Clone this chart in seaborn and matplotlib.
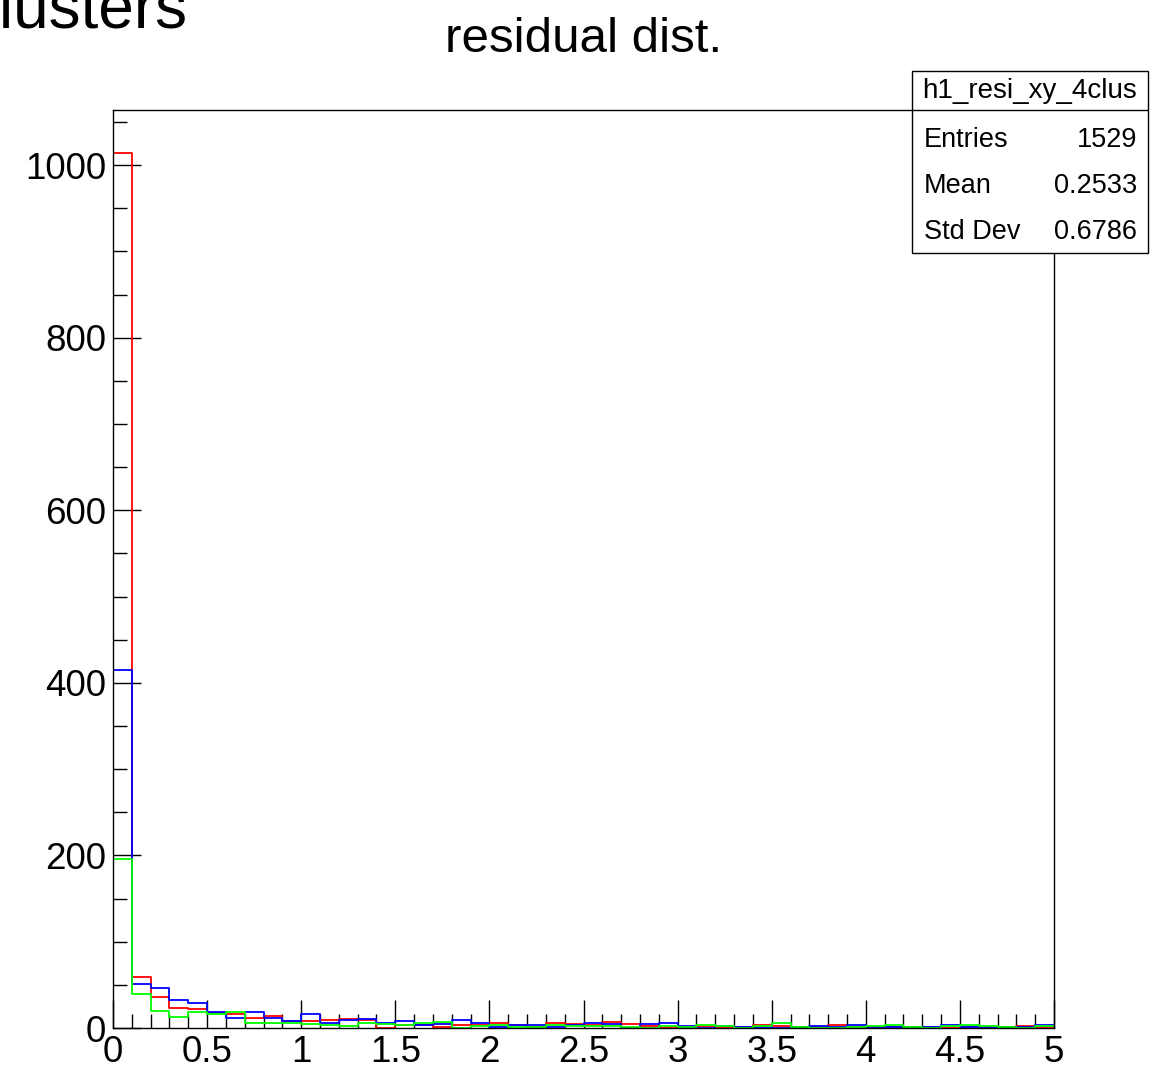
import numpy as np
import pandas as pd
import matplotlib
matplotlib.use("Agg")
import matplotlib.pyplot as plt
from matplotlib.ticker import MultipleLocator, FuncFormatter
from matplotlib.patches import Rectangle
from matplotlib.lines import Line2D
import seaborn as sns

# ---- data (50 bins, 0..5) ----
n_bins = 50
x_range = (0, 5)
red_counts = [1014, 59, 36, 23, 22, 17, 16, 12, 14, 8,
              8, 9, 10, 9, 0, 4, 3, 1, 3, 4,
              6, 4, 1, 6, 5, 3, 7, 5, 2, 1,
              1, 2, 1, 1, 4, 2, 1, 1, 3, 1,
              1, 1, 1, 1, 0, 1, 1, 1, 2, 1]
blue_counts = [415, 51, 46, 32, 29, 18, 12, 18, 12, 8,
               16, 6, 9, 11, 6, 8, 4, 5, 9, 6,
               1, 3, 3, 1, 4, 6, 5, 0, 5, 6,
               2, 0, 2, 1, 1, 0, 1, 2, 1, 3,
               1, 1, 1, 1, 4, 1, 1, 1, 1, 4]
green_counts = [196, 39, 20, 13, 18, 16, 18, 6, 6, 6,
                5, 4, 2, 6, 5, 4, 6, 7, 0, 2,
                3, 1, 1, 3, 2, 2, 2, 1, 0, 2,
                1, 4, 2, 0, 2, 6, 1, 0, 0, 1,
                2, 3, 1, 0, 2, 3, 2, 1, 0, 2]
series_names = ["red", "blue", "green"]
series_colors = ["#ff0000", "#0000ff", "#00ff00"]
stat_labels = ["Entries", "Mean", "Std Dev"]
stat_values = ["1529", "0.2533", "0.6786"]
hist_name = "h1_resi_xy_4clus"
title_text = "residual dist."
corner_text = "clusters"

bin_edges = np.linspace(x_range[0], x_range[1], n_bins + 1)
centers = (bin_edges[:-1] + bin_edges[1:]) / 2
df = pd.DataFrame({
    "x": np.tile(centers, 3),
    "w": np.concatenate([red_counts, blue_counts, green_counts]).astype(float),
    "s": np.repeat(series_names, len(centers)),
})

sns.set_theme(style="white")
plt.rcParams['font.family'] = ['Liberation Sans', 'DejaVu Sans']
plt.rcParams['text.color'] = 'black'
plt.rcParams['xtick.color'] = 'black'
plt.rcParams['ytick.color'] = 'black'

W, H = 1157, 1066
fig = plt.figure(figsize=(W / 100, H / 100), dpi=100)
ax = fig.add_axes([113 / W, 1 - 1028 / H, (1054 - 113) / W, (1028 - 110) / H])

for name, col in zip(series_names, series_colors):
    sub = df[df["s"] == name]
    sns.histplot(data=sub, x="x", weights="w", bins=n_bins, binrange=x_range,
                 element="step", fill=False, color=col, linewidth=1.3, ax=ax)

ax.set_xlim(0, 5)
ax.set_ylim(0, 1064)
ax.set_xlabel("")
ax.set_ylabel("")
for sp in ax.spines.values():
    sp.set_visible(True)
    sp.set_color("black")
    sp.set_linewidth(1.0)

ax.xaxis.set_major_locator(MultipleLocator(0.5))
ax.xaxis.set_minor_locator(MultipleLocator(0.1))
ax.yaxis.set_major_locator(MultipleLocator(200))
ax.yaxis.set_minor_locator(MultipleLocator(50))
ax.xaxis.set_major_formatter(FuncFormatter(lambda v, p: f"{v:g}"))
ax.yaxis.set_major_formatter(FuncFormatter(lambda v, p: f"{v:g}"))
ax.tick_params(axis="both", which="both", direction="in", bottom=True, left=True,
               top=False, right=False, color="black", width=1.0,
               labelcolor="black")
ax.tick_params(axis="both", which="major", length=20, labelsize=26.5)
ax.tick_params(axis="both", which="minor", length=10)
ax.tick_params(axis="x", which="major", pad=5)
ax.tick_params(axis="y", which="major", pad=5)

# title and corner text
fig.text(583.5 / W, 1 - 52 / H, title_text, ha="center", va="baseline", fontsize=35.5)
fig.text(187 / W, 1 - 27 / H, corner_text, ha="right", va="baseline", fontsize=46)

# stats box
bx0, by0, bx1, by1 = 912, 71, 1148, 253
fig.patches.append(Rectangle((bx0 / W, 1 - by1 / H), (bx1 - bx0) / W, (by1 - by0) / H,
                             transform=fig.transFigure, facecolor="white",
                             edgecolor="black", linewidth=1.0, zorder=5))
fig.lines.append(Line2D([bx0 / W, bx1 / W], [1 - 110 / H, 1 - 110 / H],
                        transform=fig.transFigure, color="black", linewidth=1.0, zorder=6))
fig.text((bx0 + bx1) / 2 / W, 1 - 91 / H, hist_name, ha="center", va="center",
         fontsize=20, zorder=7)
for i, (lab, val) in enumerate(zip(stat_labels, stat_values)):
    yy = 1 - (140 + 46 * i) / H
    fig.text(924 / W, yy, lab, ha="left", va="center", fontsize=19.5, zorder=7)
    fig.text(1137 / W, yy, val, ha="right", va="center", fontsize=19.5, zorder=7)

fig.savefig("out.png", dpi=100, facecolor="white")
